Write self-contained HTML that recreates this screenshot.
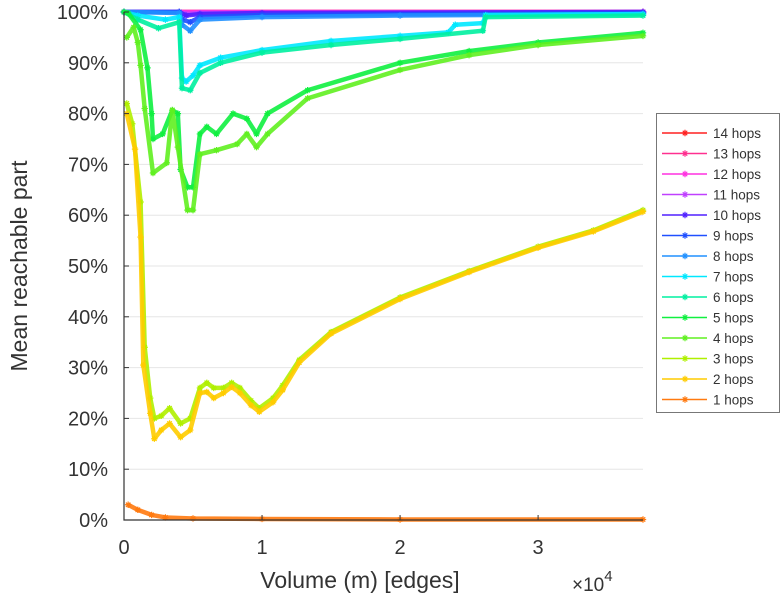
<!DOCTYPE html>
<html><head><meta charset="utf-8"><style>
body{margin:0;background:#fff;}
svg text{font-family:"Liberation Sans",sans-serif;fill:#333;}
</style></head><body>
<svg id="chart" width="781" height="600" xmlns="http://www.w3.org/2000/svg">
<g id="grid"></g>
<g id="series"></g>
<g id="axes"></g>
<g id="legend"></g>
</svg>
<script>
const yTicks=[0,10,20,30,40,50,60,70,80,90,100];
const xTicks=[0,1,2,3];
const seriesNames=["14 hops","13 hops","12 hops","11 hops","10 hops","9 hops","8 hops","7 hops","6 hops","5 hops","4 hops","3 hops","2 hops","1 hops"];
const seriesColors=["#ff2020","#ff3090","#ff30e0","#c040ff","#5020ff","#2050ff","#2090ff","#00e8ff","#00f0a0","#10f040","#60f020","#b0f000","#ffcc00","#ff7a10"];
const hop14=[[0,100],[3.76,100]];
const hop13=[[0,100],[3.76,100]];
const hop12=[[0,100],[3.76,100]];
const hop11=[[0,100],[0.4,100],[0.45,99.6],[0.55,99.8],[3.76,100]];
const hop10=[[0,100],[0.4,100],[0.45,99.3],[0.55,99.6],[1,99.8],[3.76,100]];
const hop9=[[0,100],[0.4,100],[0.42,98.5],[0.48,98],[0.55,99],[1,99.4],[3.76,99.8]];
const hop8=[[0,100],[0.4,99.8],[0.42,97.5],[0.48,96.3],[0.55,98.5],[1,99],[2,99.3],[3.76,99.6]];
const hop7=[[0,100],[0.1,99.3],[0.3,98.5],[0.4,99],[0.42,87],[0.45,86.3],[0.5,87.5],[0.55,89.5],[0.7,91],[1,92.5],[1.5,94.3],[2,95.3],[2.35,96],[2.4,97.5],[2.6,97.8],[2.62,99.4],[3.76,99.6]];
const hop6=[[0,100],[0.1,98.5],[0.25,96.8],[0.4,98],[0.42,85],[0.48,84.6],[0.55,88],[0.7,90],[1,92],[1.5,93.5],[2,94.7],[2.6,96.3],[2.62,99],[3.76,99.3]];
const hop5=[[0,100],[0.03,99.8],[0.12,96.5],[0.17,89],[0.2,80],[0.21,75],[0.28,76],[0.35,80.7],[0.39,80],[0.41,69],[0.46,65.5],[0.5,65.5],[0.55,76],[0.6,77.4],[0.67,76],[0.79,80],[0.89,79],[0.96,76],[1.04,80],[1.33,84.6],[2,90],[2.5,92.3],[3,94],[3.76,95.9]];
const hop4=[[0.02,95],[0.07,97],[0.1,94],[0.12,89.5],[0.15,81],[0.21,68.3],[0.31,70.3],[0.35,80.7],[0.39,73.4],[0.46,61],[0.5,61],[0.55,72],[0.67,72.8],[0.82,74],[0.89,76],[0.96,73.4],[1.04,76],[1.33,83],[2,88.6],[2.5,91.5],[3,93.5],[3.76,95.3]];
const hop3=[[0.02,82],[0.06,78],[0.12,62.6],[0.15,34],[0.19,24],[0.22,20],[0.27,20.5],[0.33,22],[0.41,19],[0.48,20],[0.55,26],[0.6,27],[0.65,26],[0.72,26],[0.78,27],[0.84,26],[0.92,23.5],[0.98,22],[1.08,24],[1.15,26.5],[1.27,31.5],[1.5,37],[2,43.8],[2.5,49],[3,53.8],[3.4,57],[3.76,61]];
const hop2=[[0.02,80],[0.08,73],[0.12,55.7],[0.14,30.5],[0.19,21],[0.22,16],[0.27,17.7],[0.33,19],[0.41,16.3],[0.48,17.7],[0.55,25],[0.6,25.2],[0.65,24],[0.72,25],[0.78,26.2],[0.84,25],[0.92,22.6],[0.98,21.3],[1.08,23.2],[1.15,25.6],[1.27,31],[1.5,36.7],[2,43.5],[2.5,48.8],[3,53.6],[3.4,56.8],[3.76,60.7]];
const hop1=[[0.03,3],[0.1,2],[0.2,1],[0.3,0.5],[0.5,0.3],[1,0.2],[2,0.1],[3.76,0.1]];
const seriesData=[hop14,hop13,hop12,hop11,hop10,hop9,hop8,hop7,hop6,hop5,hop4,hop3,hop2,hop1];

const X0=124,X1=643,XMAX=3.76,Y0=520,Y1=12;
const xs=v=>X0+v/XMAX*(X1-X0);
const ys=v=>Y0-v/100*(Y0-Y1);
const NS="http://www.w3.org/2000/svg";
function mk(tag,attrs,parent){const e=document.createElementNS(NS,tag);for(const k in attrs)e.setAttribute(k,attrs[k]);parent.appendChild(e);return e;}
const grid=document.getElementById('grid'),axes=document.getElementById('axes'),ser=document.getElementById('series'),leg=document.getElementById('legend');
yTicks.forEach(t=>{
  if(t>0){const g=mk('line',{x1:X0,x2:X1,y1:ys(t),y2:ys(t),stroke:'#e6e6e6','stroke-width':1},grid);
  
  }
  const tk=mk('line',{x1:X0,x2:X0+5,y1:ys(t),y2:ys(t),stroke:'#333'},axes);
  
  
  const l=mk('text',{x:108,y:ys(t)+7,'text-anchor':'end','font-size':20},axes);l.textContent=t+'%';
  
  
});
xTicks.forEach(t=>{
  const tk=mk('line',{x1:xs(t),x2:xs(t),y1:Y0,y2:Y0-5,stroke:'#333'},axes);
  
  
  const l=mk('text',{x:xs(t),y:554,'text-anchor':'middle','font-size':20},axes);l.textContent=t;
  
  
});
const ax=mk('path',{d:`M${X0},${Y1} V${Y0} H${X1}`,fill:'none',stroke:'#333','stroke-width':1.2},axes);


const yt=mk('text',{x:0,y:0,transform:'translate(27,266) rotate(-90)','text-anchor':'middle','font-size':23},axes);yt.textContent='Mean reachable part';


const xt=mk('text',{x:360,y:588,'text-anchor':'middle','font-size':23},axes);xt.textContent='Volume (m) [edges]';


const ex=mk('text',{x:572,y:591,'font-size':19},axes);ex.innerHTML='×10<tspan dy="-10" font-size="15">4</tspan>';



function star(x,y,c,p){const s=3.2;return mk('path',{d:`M${x-s},${y}H${x+s}M${x},${y-s}V${y+s}M${x-s*0.7},${y-s*0.7}L${x+s*0.7},${y+s*0.7}M${x-s*0.7},${y+s*0.7}L${x+s*0.7},${y-s*0.7}`,stroke:c,'stroke-width':1.2,fill:'none'},p);}
for(let i=0;i<seriesData.length;i++){
  const d=seriesData[i],c=seriesColors[i];
  const g=mk('g',{},ser);
  
  
  mk('polyline',{points:d.map(p=>xs(p[0])+','+ys(p[1])).join(' '),fill:'none',stroke:c,'stroke-width':4.5,'stroke-linejoin':'round','stroke-opacity':0.9},g);
  d.forEach(p=>star(xs(p[0]),ys(p[1]),c,g));
}
const lb=mk('rect',{x:656.5,y:113.5,width:123,height:299,fill:'#fff',stroke:'#777'},leg);


seriesNames.forEach((n,i)=>{
  const y=133+i*20.5;
  const g=mk('g',{},leg);
  
  
  mk('line',{x1:662,x2:707,y1:y,y2:y,stroke:seriesColors[i],'stroke-width':1.5},g);
  star(685,y,seriesColors[i],g);
  const t=mk('text',{x:713,y:y+5,'font-size':13.5},g);t.textContent=n;
});
</script>
</body></html>
